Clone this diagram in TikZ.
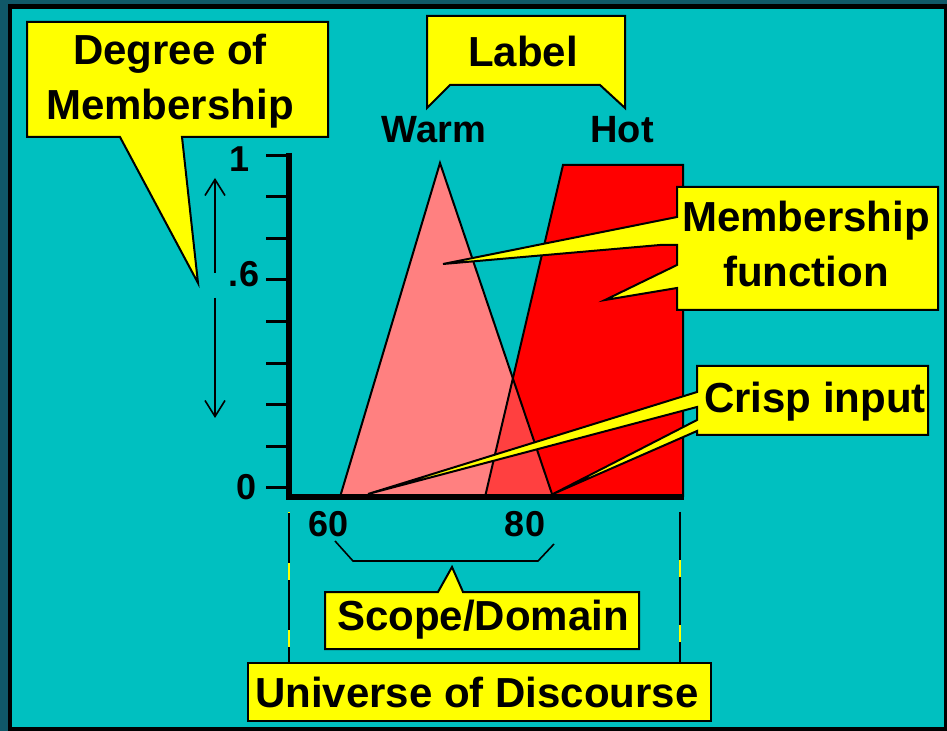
\documentclass[tikz,border=0pt]{standalone}
\usepackage{fontspec}
\setmainfont{Liberation Sans}
\usetikzlibrary{arrows.meta}

\definecolor{panel}{HTML}{00C0C0}
\definecolor{frameteal}{HTML}{105868}
\definecolor{callout}{HTML}{FFFF00}
\definecolor{warmfill}{HTML}{FF8080}
\definecolor{overlapfill}{HTML}{FF4040}
\definecolor{hotfill}{HTML}{FF0000}

\begin{document}
\begin{tikzpicture}[x=0.5pt, y=-0.5pt, >={Straight Barb[length=8pt,width=10pt]},
    bubble/.style={fill=callout, draw=black, line width=1pt, line join=miter},
    bigtext/.style={font=\fontsize{21}{25}\selectfont\bfseries, inner sep=0pt, anchor=base},
    midtext/.style={font=\fontsize{19}{23}\selectfont\bfseries, inner sep=0pt, anchor=base},
    axistext/.style={font=\fontsize{18}{22}\selectfont\bfseries, inner sep=0pt, anchor=base},
    edge/.style={draw=black, line width=1pt, line join=miter}]

\useasboundingbox (0,0) rectangle (947,731);

% Rahmen und Hintergrund
\fill[frameteal] (0,0) rectangle (947,731);
\fill[black] (8,4) rectangle (947,731);
\fill[panel] (12,9) rectangle (944,727);

% Zugehoerigkeitsfunktionen
\fill[warmfill] (340,497) -- (440,163) -- (553,497) -- cycle;
\fill[hotfill] (485,497) -- (563,165) -- (683,165) -- (683,497) -- cycle;
\begin{scope}
    \clip (485,497) -- (563,165) -- (683,165) -- (683,497) -- cycle;
    \fill[overlapfill] (340,497) -- (440,163) -- (553,497) -- cycle;
\end{scope}
\draw[edge] (340,497) -- (440,163) -- (553,497);
\draw[edge] (485,497) -- (563,165) -- (683,165) -- (683,497);

% Achsen
\draw[line width=3pt] (289,153) -- (289,497) -- (684,497);
\foreach \k in {0,...,8}
    \draw[line width=1.5pt] (266,{488-41.6*\k}) -- (289,{488-41.6*\k});
\node[axistext] (one) at (240,172) {1};
\node[axistext] (sixty) at (244,287) {.6};
\node[axistext] (zero) at (247,500) {0};
\node[axistext] (x60) at (329,537) {60};
\node[axistext] (x80) at (525,537) {80};

% Pfeil Zugehoerigkeitsgrad
\draw[->, line width=0.8pt] (215,273) -- (215,178);
\draw[->, line width=0.8pt] (215,298) -- (215,418);

% Bezeichnungen
\node[midtext] (warm) at (434,143) {Warm};
\node[midtext] (hot) at (622,143) {Hot};

% Klammer Scope
\draw[line width=0.8pt] (335,541) -- (353,561) -- (538,561) -- (554,544);

% Grenzen Universe
\draw[callout, line width=1pt] (289,512) -- (289,663);
\draw[black, line width=1pt, dash pattern=on 25pt off 8.5pt] (289,513) -- (289,663);
\draw[callout, line width=1pt] (680,512) -- (680,663);
\draw[black, line width=1pt, dash pattern=on 24pt off 8.5pt] (680,512) -- (680,663);

% Sprechblasen
\draw[bubble] (27,22) -- (328,22) -- (328,137) -- (182,137) -- (198,283)
    -- (120,137) -- (27,137) -- cycle;
\node[bigtext] (degree) at (170,65) {Degree of};
\node[bigtext] (member) at (170,120) {Membership};

\draw[bubble] (427,16) -- (625,16) -- (625,108) -- (600,85) -- (450,85)
    -- (427,108) -- cycle;
\node[bigtext] (label) at (523,67) {Label};

\draw[bubble] (677,187) -- (938,187) -- (938,310) -- (677,310) -- (677,288)
    -- (605,300) -- (677,265) -- (677,245) -- (660,245) -- (443,264)
    -- (677,217) -- cycle;
\node[bigtext] (mfunc) at (806,232) {Membership};
\node[bigtext] (mfunc2) at (806,287) {function};

\draw[bubble] (697,366) -- (928,366) -- (928,435) -- (697,435) -- (697,431)
    -- (553,494) -- (697,420) -- (697,407) -- (368,494) -- (697,392) -- cycle;
\node[bigtext] (crisp) at (815,413) {Crisp input};

\draw[bubble] (325,592) -- (438,592) -- (452,567) -- (463,592) -- (639,592)
    -- (639,649) -- (325,649) -- cycle;
\node[bigtext] (scope) at (483,630) {Scope/Domain};

\draw[bubble] (248,663) rectangle (711,721);
\node[bigtext] (universe) at (477,707) {Universe of Discourse};

\end{tikzpicture}
\end{document}
